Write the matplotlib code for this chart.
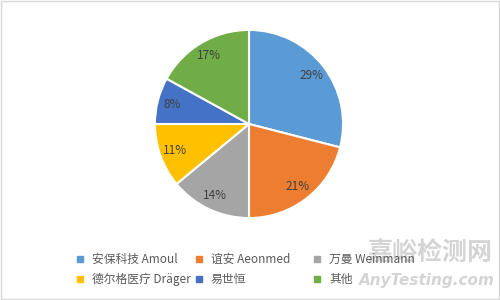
import matplotlib.pyplot as plt
from matplotlib.patches import Rectangle

plt.rcParams['font.family'] = ['Noto Sans CJK SC', 'DejaVu Sans']

# datos del grafico
etiquetas = ["安保科技 Amoul", "谊安 Aeonmed", "万曼 Weinmann",
             "德尔格医疗 Dräger", "易世恒", "其他"]
valores = [29, 21, 14, 11, 8, 17]
colores = ["#5b9bd5", "#ed7d31", "#a5a5a5", "#ffc000", "#4472c4", "#70ad47"]

fig = plt.figure(figsize=(5, 3), dpi=100)

# marco gris claro
fig.patches.append(Rectangle((0.002, 0.003), 0.996, 0.994, transform=fig.transFigure,
                             fill=False, edgecolor="#d9d9d9", linewidth=1))

# marca de agua (detras)
fig.text(0.985, 1 - 253 / 300, "嘉峪检测网", fontsize=18, color="#d4d4d4",
         ha="right", va="center", fontweight="bold", zorder=0)
fig.text(0.99, 1 - 281 / 300, "AnyTesting.com", fontsize=11, color="#d4d4d4",
         ha="right", va="center", fontstyle="italic", fontweight="bold",
         family="DejaVu Sans", zorder=0)

# pastel
ax = fig.add_axes([(249 - 95) / 500, (300 - 219) / 300, 190 / 500, 190 / 300])
ax.pie(valores, colors=colores, startangle=90, counterclock=False,
       autopct="%1.0f%%", pctdistance=0.84,
       wedgeprops=dict(edgecolor="white", linewidth=1.5),
       textprops=dict(color="#404040", fontsize=8.5))
ax.set_xlim(-1.01, 1.01)
ax.set_ylim(-1.01, 1.01)
ax.set_aspect("equal")

# leyenda manual (3 columnas)
x0, dx = 80 / 500, 118.5 / 500
filas = [1 - 259 / 300, 1 - 279 / 300]
for i, (lab, col) in enumerate(zip(etiquetas, colores)):
    x = x0 + (i % 3) * dx
    y = filas[i // 3]
    fig.patches.append(Rectangle((x - 3 / 500, y - 3 / 300), 6 / 500, 6 / 300,
                                 transform=fig.transFigure, color=col))
    fig.text(x + 12 / 500, y, lab, fontsize=8.5, color="#595959", va="center", ha="left")

fig.savefig("out.png", dpi=100)
